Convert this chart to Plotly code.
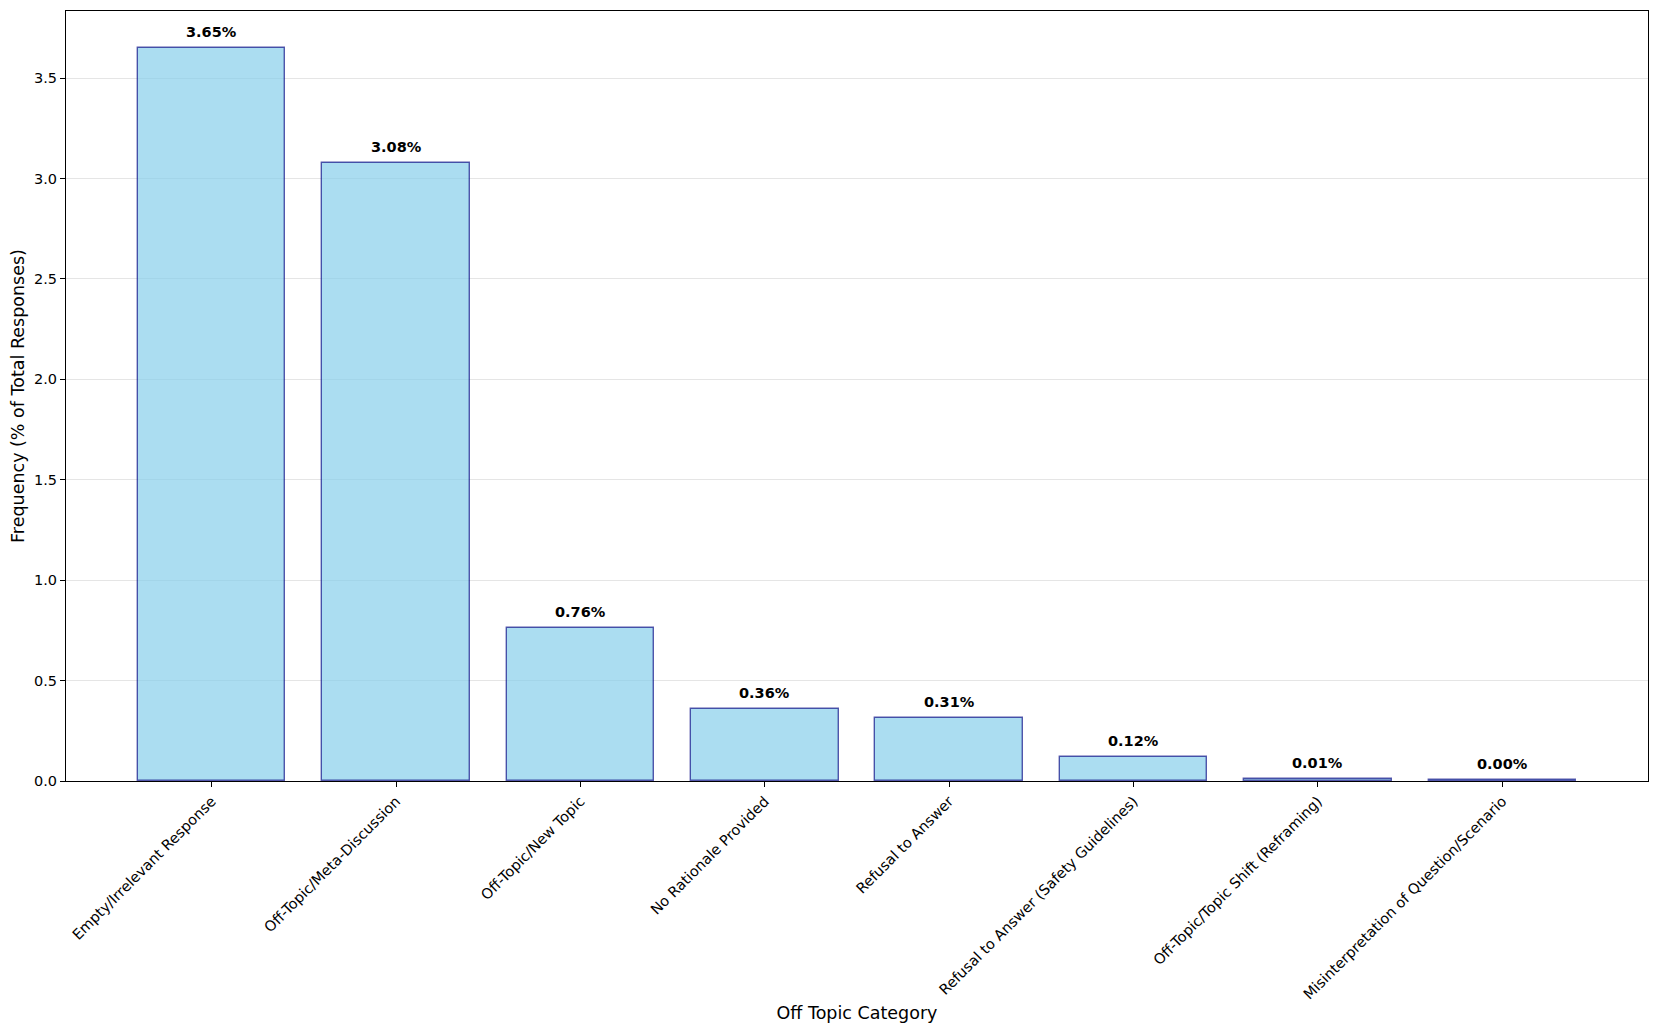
import plotly.graph_objects as go

categories = [
    "Empty/Irrelevant Response",
    "Off-Topic/Meta-Discussion",
    "Off-Topic/New Topic",
    "No Rationale Provided",
    "Refusal to Answer",
    "Refusal to Answer (Safety Guidelines)",
    "Off-Topic/Topic Shift (Reframing)",
    "Misinterpretation of Question/Scenario",
]
values = [3.652, 3.077, 0.763, 0.357, 0.312, 0.121, 0.011, 0.003]
ytick_vals = [0.0, 0.5, 1.0, 1.5, 2.0, 2.5, 3.0, 3.5]

FONT = "DejaVu Sans"
xs = list(range(len(categories)))

fig = go.Figure()
fig.add_trace(go.Bar(
    x=xs, y=values, width=0.8,
    marker=dict(color="rgba(135,206,235,0.7)",
                line=dict(color="rgba(0,0,128,0.65)", width=1.4)),
    hoverinfo="skip",
))

for x, v in zip(xs, values):
    fig.add_annotation(x=x, y=v, text=f"<b>{v:.2f}%</b>", showarrow=False,
                       yanchor="bottom", yshift=6,
                       font=dict(family=FONT, size=14.5, color="black"))

ymax = max(values) * 1.05
fig.update_layout(
    width=1652, height=1025,
    margin=dict(l=58, r=12, t=3, b=252, autoexpand=False),
    paper_bgcolor="white", plot_bgcolor="white",
    showlegend=False,
    font=dict(family=FONT, size=14.5, color="black"),
    bargap=0,
)
fig.update_xaxes(
    range=[-0.79, 7.79], automargin=False,
    tickmode="array", tickvals=xs, ticktext=categories,
    tickangle=-45,
    ticks="outside", ticklen=5, tickwidth=1, tickcolor="black",
    showline=True, linecolor="black", linewidth=1.2, mirror=True,
    showgrid=False, zeroline=False,
    title=dict(text="Off Topic Category", font=dict(family=FONT, size=17.5), standoff=5),
    tickfont=dict(family=FONT, size=14.5),
)
fig.update_yaxes(
    range=[0, ymax], automargin=False,
    tickmode="array", tickvals=ytick_vals, ticktext=[f"{t:.1f}" for t in ytick_vals],
    ticks="outside", ticklen=5, tickwidth=1, tickcolor="black",
    showline=True, linecolor="black", linewidth=1.2, mirror=True,
    showgrid=True, gridcolor="rgba(0,0,0,0.1)", gridwidth=1,
    zeroline=False,
    title=dict(text="Frequency (% of Total Responses)", font=dict(family=FONT, size=17.5), standoff=4),
    tickfont=dict(family=FONT, size=14.5),
)

fig.write_html("out.html")
